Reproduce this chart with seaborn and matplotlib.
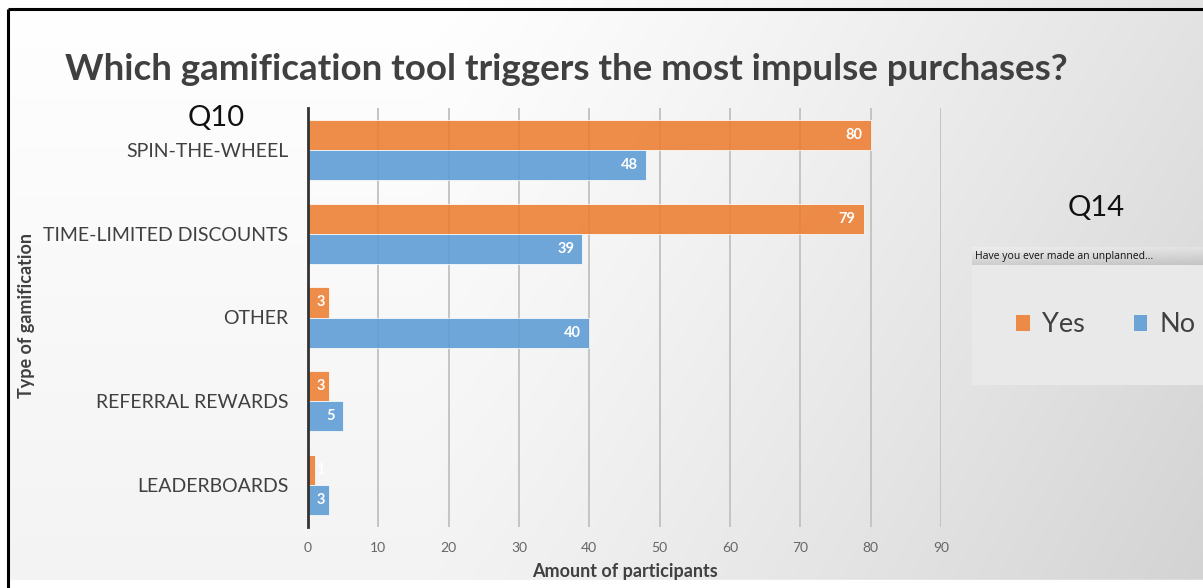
import numpy as np
import pandas as pd
import matplotlib
matplotlib.use("Agg")
import matplotlib.pyplot as plt
from matplotlib.patches import Rectangle
import seaborn as sns

# Survey answers (Q10), split by answer to Q14
categories = ["SPIN-THE-WHEEL", "TIME-LIMITED DISCOUNTS", "OTHER", "REFERRAL REWARDS", "LEADERBOARDS"]
yes_counts = [80, 79, 3, 3, 1]
no_counts = [48, 39, 40, 5, 3]
answers = ["Yes", "No"]
x_ticks = [0, 10, 20, 30, 40, 50, 60, 70, 80, 90]

title = "Which gamification tool triggers the most impulse purchases?"
x_label = "Amount of participants"
y_label = "Type of gamification"
filter_label = "Have you ever made an unplanned..."

df = pd.DataFrame({
    "category": categories * 2,
    "answer": ["Yes"] * len(categories) + ["No"] * len(categories),
    "count": yes_counts + no_counts,
})

sns.set_theme(style="white")
plt.rcParams["font.family"] = ["Lato", "DejaVu Sans"]

W, H = 1203, 588
fig = plt.figure(figsize=(W / 100, H / 100), dpi=100)

# Soft diagonal grey gradient behind everything
bg = fig.add_axes([0, 0, 1, 1], zorder=-10)
xs = np.linspace(0, 1, 400)
ys = np.linspace(0, 1, 200)
X, Y = np.meshgrid(xs, ys)
xw = np.clip((X - 0.35) / 0.65, 0, 1) ** 1.2
shade = 255 - 28 * xw - 12 * Y - 4 * xw * Y
bg.imshow(np.dstack([shade / 255] * 3), aspect="auto", extent=[0, 1, 1, 0])
bg.set_xlim(0, 1)
bg.set_ylim(1, 0)
bg.axis("off")

# Frame lines on top and left
bg.add_patch(Rectangle((0, 0), 1, 8 / H, color="white", transform=bg.transAxes, zorder=2))
bg.add_patch(Rectangle((0, 0), 8 / W, 1, color="white", transform=bg.transAxes, zorder=2))
bg.plot([8 / W, 1], [8.5 / H, 8.5 / H], color="black", lw=2.2, zorder=3, solid_capstyle="butt")
bg.plot([8 / W, 8 / W], [8.5 / H, 1], color="black", lw=2.2, zorder=3, solid_capstyle="butt")

# Filter panel and header button on the right
bg.add_patch(Rectangle((972 / W, 247 / H), (W - 972) / W, (385 - 247) / H,
                       facecolor="#e9e9e9", edgecolor="none", zorder=1))
hdr = np.linspace(0, 1, 20)[:, None] * np.ones((1, 50))
hdr_rgb = 0.93 - 0.12 * hdr - 0.04 * np.linspace(0, 1, 50)[None, :]
bg.imshow(np.dstack([hdr_rgb] * 3), aspect="auto",
          extent=[972 / W, 1, 265 / H, 247 / H], zorder=1.5)
bg.set_xlim(0, 1)
bg.set_ylim(1, 0)
fig.text(975 / W, 1 - 256 / H, filter_label, fontsize=7.5, color="#111111",
         va="center", ha="left", family=["Open Sans", "DejaVu Sans"])

# Main bar chart
ax = fig.add_axes([308 / W, (H - 527) / H, 633 / W, 419 / H])
ax.set_facecolor("none")
palette = {"Yes": "#ED7D31", "No": "#5B9BD5"}
sns.barplot(data=df, y="category", x="count", hue="answer", hue_order=answers,
            order=categories, orient="h", palette=palette, width=0.72,
            alpha=0.88, edgecolor="white", linewidth=0.6, saturation=1,
            ax=ax, zorder=2)
ax.get_legend().remove()

ax.set_xlim(0, 90)
ax.set_xticks(x_ticks)
ax.grid(axis="x", color="#c4c4c4", lw=1.4, zorder=1)
ax.grid(axis="y", visible=False)
for side in ["top", "right", "bottom"]:
    ax.spines[side].set_visible(False)
ax.spines["left"].set_color("#333333")
ax.spines["left"].set_linewidth(2)
ax.spines["left"].set_zorder(5)
ax.tick_params(axis="both", length=0)
ax.tick_params(axis="y", pad=14, labelsize=14, labelcolor="#404040")
ax.tick_params(axis="x", pad=11, labelsize=10, labelcolor="#666666")
ax.set_xlabel(x_label, fontsize=13, fontweight="bold", color="#404040", labelpad=6)
ax.set_ylabel("")

# Value labels at the inner end of each bar
for container, values in zip(ax.containers, [yes_counts, no_counts]):
    for bar, v in zip(container, values):
        yc = bar.get_y() + bar.get_height() / 2
        ax.text(max(v - 1.15, 2.4), yc, f"{v}", ha="right", va="center",
                fontsize=10.5, fontweight="bold", color="white", zorder=6)

# Titles and annotations
fig.text(566 / W, 1 - 70 / H, title, fontsize=26.5, fontweight="bold",
         color="#404040", ha="center", va="center")
fig.text(216 / W, 1 - 118 / H, "Q10", fontsize=21, color="#111111", ha="center", va="center")
fig.text(1096 / W, 1 - 208 / H, "Q14", fontsize=21, color="#111111", ha="center", va="center")
fig.text(27 / W, 1 - 316 / H, y_label, fontsize=13, fontweight="bold",
         color="#404040", rotation=90, ha="center", va="center")

handles = [Rectangle((0, 0), 1, 1, facecolor=palette[a], alpha=0.88, edgecolor="none")
           for a in answers]
fig.legend(handles, answers, loc="center", bbox_to_anchor=(1106 / W, 1 - 325 / H),
           ncol=2, frameon=False, fontsize=19.5, handlelength=0.5, handleheight=0.5,
           handletextpad=0.45, columnspacing=1.8, labelcolor="#404040")

fig.savefig("out.png", dpi=100)
